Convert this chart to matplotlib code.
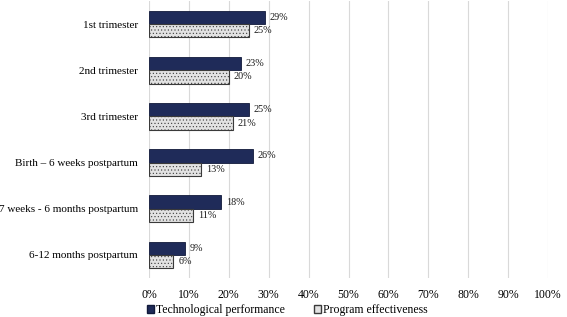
import matplotlib
matplotlib.use("Agg")
import matplotlib.pyplot as plt
from matplotlib.patches import Patch
import numpy as np

categories = ["1st trimester", "2nd trimester", "3rd trimester",
              "Birth – 6 weeks postpartum", "7 weeks - 6 months postpartum",
              "6-12 months postpartum"]
tech = [29, 23, 25, 26, 18, 9]
prog = [25, 20, 21, 13, 11, 6]
xticks = [0, 10, 20, 30, 40, 50, 60, 70, 80, 90, 100]

plt.rcParams['font.family'] = ['Liberation Serif', 'DejaVu Serif']
plt.rcParams['hatch.color'] = '#9a9a9a'
plt.rcParams['hatch.linewidth'] = 0.4

fig = plt.figure(figsize=(5.67, 3.17), dpi=100)
ax = fig.add_axes([149/567, 1-278/317, (548-149)/567, 277/317])

y = np.arange(len(categories))
h = 0.29
dark = '#1f2b59'
light = '#e2e2e2'
ax.barh(y - h/2, tech, height=h, color=dark, edgecolor='#111a3a', linewidth=0.6, zorder=3)
ax.barh(y + h/2, prog, height=h, color=light, edgecolor='#3a3a3a', linewidth=0.8,
        hatch='.....', zorder=3)

for yi, v in zip(y, tech):
    ax.text(v + 1.3, yi - h/2, f"{v}%", va='center', ha='left', fontsize=7.3, color='#1a1a1a')
for yi, v in zip(y, prog):
    ax.text(v + 1.3, yi + h/2, f"{v}%", va='center', ha='left', fontsize=7.3, color='#1a1a1a')

ax.set_xlim(0, 100)
ax.set_ylim(len(categories) - 0.5, -0.5)
ax.set_xticks(xticks)
ax.set_xticklabels([f"{t}%" for t in xticks], fontsize=8.5)
ax.set_yticks(y)
ax.set_yticklabels(categories, fontsize=8)
ax.tick_params(axis='x', length=0, pad=8)
ax.tick_params(axis='y', length=0, pad=8)
ax.grid(axis='x', color='#d9d9d9', linewidth=0.8, zorder=0)
for s in ax.spines.values():
    s.set_visible(False)

handles = [Patch(facecolor=dark, edgecolor='#111a3a', label='Technological performance'),
           Patch(facecolor=light, edgecolor='#3a3a3a', label='Program effectiveness')]
fig.legend(handles=handles, loc='center left', bbox_to_anchor=(147/567, 1-310/317), ncol=2,
           frameon=False, fontsize=8.5, handlelength=0.6, handleheight=0.6,
           handletextpad=0.2, columnspacing=2.4, borderaxespad=0, borderpad=0)

fig.savefig("out.png", dpi=100)
